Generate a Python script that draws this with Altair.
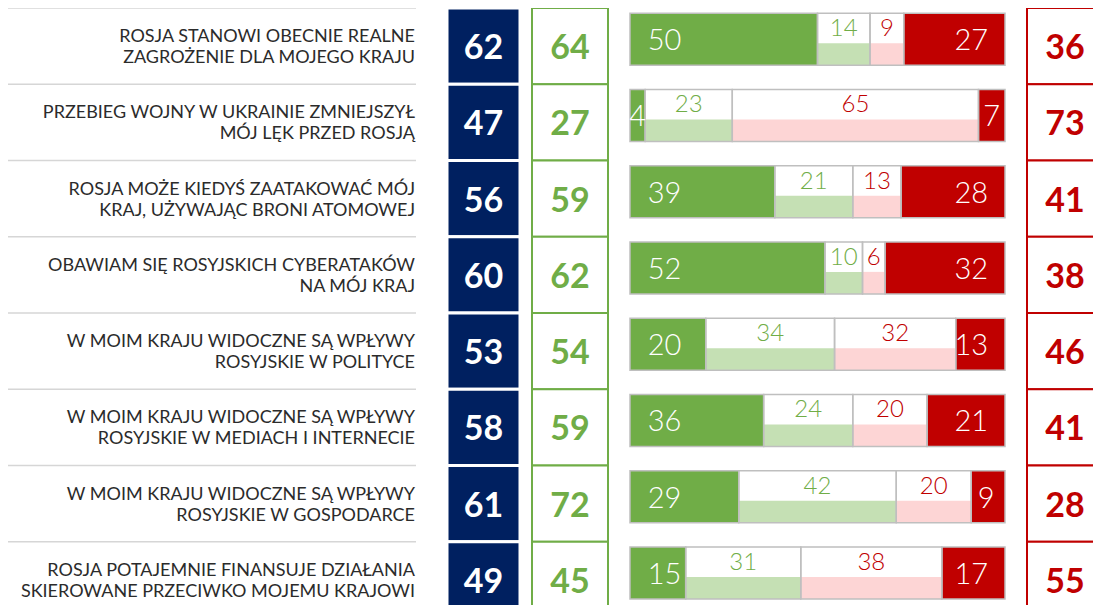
import altair as alt
import pandas as pd

statements = [
    "ROSJA STANOWI OBECNIE REALNE\nZAGROŻENIE DLA MOJEGO KRAJU",
    "PRZEBIEG WOJNY W UKRAINIE ZMNIEJSZYŁ\nMÓJ LĘK PRZED ROSJĄ",
    "ROSJA MOŻE KIEDYŚ ZAATAKOWAĆ MÓJ\nKRAJ, UŻYWAJĄC BRONI ATOMOWEJ",
    "OBAWIAM SIĘ ROSYJSKICH CYBERATAKÓW\nNA MÓJ KRAJ",
    "W MOIM KRAJU WIDOCZNE SĄ WPŁYWY\nROSYJSKIE W POLITYCE",
    "W MOIM KRAJU WIDOCZNE SĄ WPŁYWY\nROSYJSKIE W MEDIACH I INTERNECIE",
    "W MOIM KRAJU WIDOCZNE SĄ WPŁYWY\nROSYJSKIE W GOSPODARCE",
    "ROSJA POTAJEMNIE FINANSUJE DZIAŁANIA\nSKIEROWANE PRZECIWKO MOJEMU KRAJOWI",
]
navy_vals = [62, 47, 56, 60, 53, 58, 61, 49]
green_vals = [64, 27, 59, 62, 54, 59, 72, 45]
seg_strong_yes = [50, 4, 39, 52, 20, 36, 29, 15]
seg_yes = [14, 23, 21, 10, 34, 24, 42, 31]
seg_no = [9, 65, 13, 6, 32, 20, 20, 38]
seg_strong_no = [27, 7, 28, 32, 13, 21, 9, 17]
red_vals = [36, 73, 41, 38, 46, 41, 28, 55]

NAVY = "#002060"
GREEN = "#70ad47"
LIGHT_GREEN = "#c5e0b4"
RED = "#c00000"
PINK = "#fdd5d5"
GRAY = "#bfbfbf"
FONT = "Lato"

rows = pd.DataFrame({"stmt": statements, "navy": navy_vals,
                     "green": green_vals, "red": red_vals})

fills = [GREEN, "#ffffff", "#ffffff", RED]
lowers = [None, LIGHT_GREEN, PINK, None]
recs = []
for i, s in enumerate(statements):
    vals = [seg_strong_yes[i], seg_yes[i], seg_no[i], seg_strong_no[i]]
    tot = float(sum(vals))
    cum = 0.0
    for k, v in enumerate(vals):
        start = cum / tot * 100
        cum += v
        end = cum / tot * 100
        w = end - start
        if k == 0:
            lx = start + min(9.2, max(w / 2, w - 4))
        elif k == 3:
            lx = end - min(9.0, max(w / 2, w - 4))
        else:
            lx = (start + end) / 2
        recs.append({"stmt": s, "cat": k, "value": v, "start": start, "end": end,
                     "fill": fills[k], "lower": lowers[k], "lx": lx,
                     "tcolor": "#ffffff" if k in (0, 3) else (GREEN if k == 1 else RED)})
seg = pd.DataFrame(recs)

yscale = alt.Scale(domain=statements, range=[0, 610], paddingInner=0, paddingOuter=0)
Y = alt.Y("stmt:N", scale=yscale, axis=None)
Ytop = alt.Y("stmt:N", scale=yscale, axis=None, bandPosition=0)
xscale = alt.Scale(domain=[0, 100], range=[622, 997])

base_rows = alt.Chart(rows)
base_seg = alt.Chart(seg)

separators = base_rows.mark_rule(color="#d6d6d6", strokeWidth=1.5).encode(
    x=alt.value(-3), x2=alt.value(408), y=Ytop)

labels = base_rows.mark_text(align="right", baseline="middle", lineBreak="\n",
                             lineHeight=21, font=FONT, fontSize=18,
                             color="#2b2b2b", dy=-9).encode(
    x=alt.value(407), y=Y, text="stmt:N")

navy_box = base_rows.mark_rect(color=NAVY, stroke="white", strokeWidth=3).encode(
    x=alt.value(439), x2=alt.value(512), y=Y)
navy_txt = base_rows.mark_text(font=FONT, fontWeight="bold", fontSize=34,
                               color="white", baseline="middle", dy=3).encode(
    x=alt.value(475.5), y=Y, text="navy:Q")

green_box = base_rows.mark_rect(fill="white", stroke=GREEN, strokeWidth=2).encode(
    x=alt.value(524), x2=alt.value(600), y=Y)
green_txt = base_rows.mark_text(font=FONT, fontWeight="bold", fontSize=34,
                                color=GREEN, baseline="middle", dy=3).encode(
    x=alt.value(562), y=Y, text="green:Q")

red_box = base_rows.mark_rect(fill="white", stroke=RED, strokeWidth=2).encode(
    x=alt.value(1019), x2=alt.value(1096), y=Y)
red_txt = base_rows.mark_text(font=FONT, fontWeight="bold", fontSize=34,
                              color=RED, baseline="middle", dy=3).encode(
    x=alt.value(1057), y=Y, text="red:Q")

X = alt.X("start:Q", scale=xscale, axis=None)
X2 = alt.X2("end:Q")

bar_fill = base_seg.mark_bar(height=52, yOffset=-7).encode(
    x=X, x2=X2, y=Y, color=alt.Color("fill:N", scale=None))
bar_lower = base_seg.transform_filter("datum.lower != null").mark_bar(
    height=22, yOffset=8).encode(
    x=X, x2=X2, y=Y, color=alt.Color("lower:N", scale=None))
bar_outline = base_seg.mark_bar(height=52, yOffset=-7, fillOpacity=0,
                                stroke=GRAY, strokeWidth=1.5).encode(
    x=X, x2=X2, y=Y)

dark_lbl = base_seg.transform_filter("datum.cat == 0 || datum.cat == 3").mark_text(
    font=FONT, fontWeight=300, fontSize=29, baseline="middle", dy=-5).encode(
    x=alt.X("lx:Q", scale=xscale, axis=None), y=Y, text="value:Q",
    color=alt.Color("tcolor:N", scale=None))
light_lbl = base_seg.transform_filter("datum.cat == 1 || datum.cat == 2").mark_text(
    font=FONT, fontWeight=300, fontSize=24, baseline="middle", dy=-17).encode(
    x=alt.X("lx:Q", scale=xscale, axis=None), y=Y, text="value:Q",
    color=alt.Color("tcolor:N", scale=None))

chart = alt.layer(
    separators, labels, navy_box, navy_txt, green_box, green_txt,
    bar_fill, bar_lower, bar_outline, dark_lbl, light_lbl, red_box, red_txt
).properties(
    width=1085, height=597, padding=0,
    autosize=alt.AutoSizeParams(type="none")
).configure_view(stroke=None)

chart.save("out.html", embed_options={"renderer": "svg", "actions": False})
